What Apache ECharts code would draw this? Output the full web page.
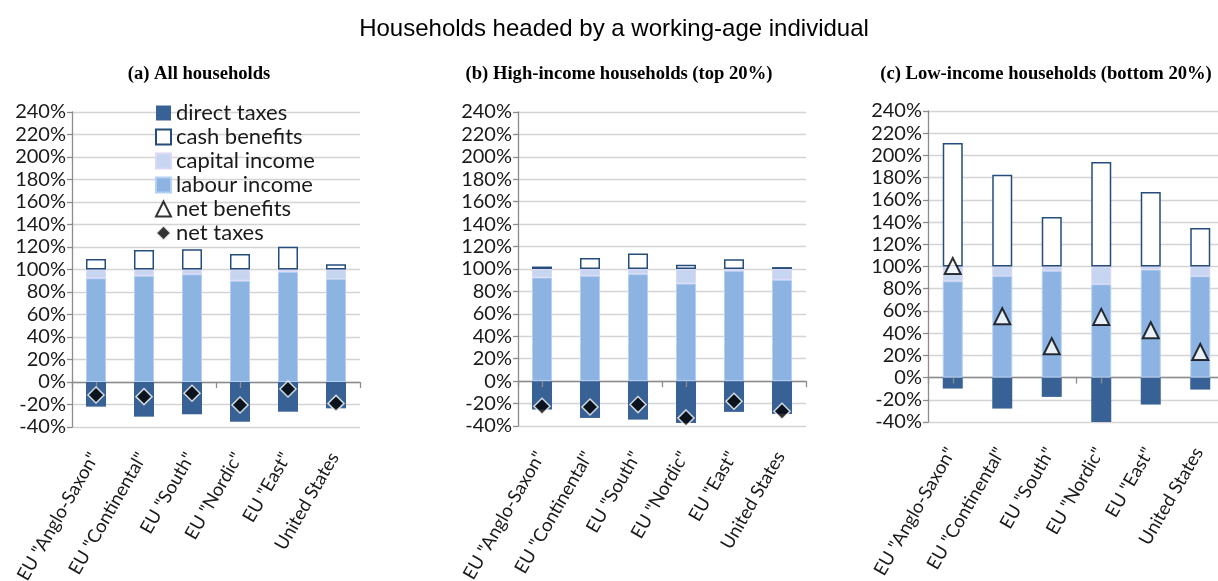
<!DOCTYPE html>
<html>
<head>
<meta charset="utf-8">
<script src="https://cdn.jsdelivr.net/npm/echarts@6/dist/echarts.min.js"></script>
<style>html,body{margin:0;padding:0;background:#fff;}#c{width:1218px;height:581px;}</style>
</head>
<body>
<div id="c"></div>
<script>
const categories = ['EU "Anglo-Saxon"', 'EU "Continental"', 'EU "South"', 'EU "Nordic"', 'EU "East"', 'United States'];
const yTicks = [-40, 240, 20];

// (a) All households
const labourA = [92.2, 94.5, 95.7, 90.0, 98.0, 91.6];
const capitalA = [7.8, 5.5, 4.3, 10.0, 2.0, 8.4];
const cashA = [9.3, 17.3, 18.0, 13.8, 20.3, 4.6];
const directA = [-21.9, -30.8, -28.7, -35.3, -26.4, -23.4];
const netTaxesA = [-11.6, -13.0, -10.0, -20.4, -6.2, -19.0];

// (b) High-income households (top 20%)
const labourB = [92.4, 93.9, 95.4, 87.0, 98.4, 90.3];
const capitalB = [7.6, 6.1, 4.6, 13.0, 1.6, 9.7];
const cashB = [2.2, 9.7, 13.9, 3.8, 8.8, 1.7];
const directB = [-25.3, -32.8, -34.3, -37.3, -27.4, -29.2];
const netTaxesB = [-22.4, -23.0, -20.9, -32.8, -17.9, -26.8];

// (c) Low-income households (bottom 20%)
const labourC = [86.7, 91.4, 96.0, 84.0, 97.2, 91.2];
const capitalC = [13.3, 8.6, 4.0, 16.0, 2.8, 8.8];
const cashC = [111.2, 82.7, 44.6, 94.0, 67.0, 34.7];
const directC = [-9.9, -27.9, -17.4, -40.0, -24.3, -10.8];
const netBenefitsC = [100.4, 55.2, 28.2, 54.6, 42.6, 23.0];

const FONT = 'Lato';
const colDirect = '#386195', colLabour = '#8DB3E2', colCapital = '#C6D6F0';

const grids = [
  {left: 72, top: 112, width: 288, height: 315, containLabel: false, outerBoundsMode: 'none'},
  {left: 518, top: 112, width: 288, height: 314, containLabel: false, outerBoundsMode: 'none'},
  {left: 928, top: 111, width: 297, height: 311, containLabel: false, outerBoundsMode: 'none'}
];

const xAxes = [], yAxes = [];
grids.forEach((g, i) => {
  // label axis at bottom
  xAxes.push({type: 'category', gridIndex: i, data: categories, position: 'bottom',
    axisLine: {show: false, onZero: false}, axisTick: {show: false},
    axisLabel: {rotate: 60, margin: 24, padding: [0, 3.5, 12, 0], fontFamily: FONT, fontSize: 18.5, color: '#1a1a1a', interval: 0}});
  // zero line with boundary ticks
  xAxes.push({type: 'category', gridIndex: i, data: categories, position: 'bottom',
    axisLine: {show: true, onZero: true, onZeroAxisIndex: i, lineStyle: {color: '#8c8c8c', width: 1.3}},
    axisTick: {show: true, length: 6, inside: false, lineStyle: {color: '#8c8c8c', width: 1.3}},
    axisLabel: {show: false}, splitLine: {show: false}});
  // zero line center ticks
  xAxes.push({type: 'category', gridIndex: i, data: categories, position: 'bottom', z: 5,
    axisLine: {show: false, onZero: true, onZeroAxisIndex: i},
    axisTick: {show: true, alignWithLabel: true, length: 6, lineStyle: {color: '#8c8c8c', width: 1.3}},
    axisLabel: {show: false}, splitLine: {show: false}});
  yAxes.push({type: 'value', gridIndex: i, min: yTicks[0], max: yTicks[1], interval: yTicks[2],
    axisLine: {show: true, lineStyle: {color: '#8c8c8c', width: 1.3}},
    axisTick: {show: true, length: 5, lineStyle: {color: '#8c8c8c', width: 1.3}},
    splitLine: {show: true, lineStyle: {color: '#d4d4d4', width: 1.3}},
    axisLabel: {formatter: '{value}%', margin: 6, fontFamily: FONT, fontSize: 20, color: '#1a1a1a'}});
});

function bars(i, labour, capital, cash, direct) {
  const xi = i * 3, st = 's' + i;
  return [
    {name: 'direct taxes', type: 'bar', xAxisIndex: xi, yAxisIndex: i, stack: st, barWidth: 20, data: direct,
      itemStyle: {color: colDirect, borderColor: colDirect, borderWidth: 0}},
    {name: 'labour income', type: 'bar', xAxisIndex: xi, yAxisIndex: i, stack: st, barWidth: 20, data: labour,
      itemStyle: {color: colLabour, borderColor: '#B4D0F5', borderWidth: 1}},
    {name: 'capital income', type: 'bar', xAxisIndex: xi, yAxisIndex: i, stack: st, barWidth: 20, data: capital,
      itemStyle: {color: colCapital, borderColor: '#DCD8F6', borderWidth: 1}},
    {name: 'cash benefits', type: 'bar', xAxisIndex: xi, yAxisIndex: i, stack: st, barWidth: 20, data: cash,
      itemStyle: {color: '#ffffff', borderColor: '#244C7C', borderWidth: 1.5}}
  ];
}

const series = [].concat(
  bars(0, labourA, capitalA, cashA, directA),
  bars(1, labourB, capitalB, cashB, directB),
  bars(2, labourC, capitalC, cashC, directC),
  [
    {name: 'net taxes', type: 'scatter', xAxisIndex: 0, yAxisIndex: 0, data: netTaxesA, symbol: 'diamond', symbolSize: 16, z: 10,
      itemStyle: {color: '#000', borderColor: '#fff', borderWidth: 1.5}},
    {name: 'net taxes', type: 'scatter', xAxisIndex: 3, yAxisIndex: 1, data: netTaxesB, symbol: 'diamond', symbolSize: 16, z: 10,
      itemStyle: {color: '#000', borderColor: '#fff', borderWidth: 1.5}},
    {name: 'net benefits', type: 'scatter', xAxisIndex: 6, yAxisIndex: 2, data: netBenefitsC, symbol: 'triangle', symbolSize: 16, z: 10,
      itemStyle: {color: '#fff', borderColor: '#000', borderWidth: 2}}
  ]
);

const chart = echarts.init(document.getElementById('c'), null, {renderer: 'canvas'});
chart.setOption({
  animation: false,
  backgroundColor: '#fff',
  title: [
    {text: 'Households headed by a working-age individual', left: 609, top: 12, textAlign: 'center',
      textStyle: {fontFamily: 'Liberation Sans', fontSize: 24, fontWeight: 'normal', color: '#000'}},
    {text: '(a) All households', left: 194, top: 60, textAlign: 'center',
      textStyle: {fontFamily: 'Liberation Serif', fontSize: 18.6, fontWeight: 'bold', color: '#000'}},
    {text: '(b) High-income households (top 20%)', left: 614, top: 60, textAlign: 'center',
      textStyle: {fontFamily: 'Liberation Serif', fontSize: 18.6, fontWeight: 'bold', color: '#000'}},
    {text: '(c) Low-income households (bottom 20%)', left: 1041, top: 60, textAlign: 'center',
      textStyle: {fontFamily: 'Liberation Serif', fontSize: 18.6, fontWeight: 'bold', color: '#000'}}
  ],
  legend: {
    orient: 'vertical', left: 150, top: 97, itemWidth: 15, itemHeight: 15, itemGap: 2,
    selectedMode: false,
    data: [
      {name: 'direct taxes', icon: 'rect'},
      {name: 'cash benefits', icon: 'rect'},
      {name: 'capital income', icon: 'rect'},
      {name: 'labour income', icon: 'rect'},
      {name: 'net benefits'},
      {name: 'net taxes'}
    ],
    textStyle: {fontFamily: FONT, fontSize: 22, color: '#1a1a1a', padding: [0, 0, 0, 0]}
  },
  grid: grids,
  xAxis: xAxes,
  yAxis: yAxes,
  series: series
});
</script>
</body>
</html>
